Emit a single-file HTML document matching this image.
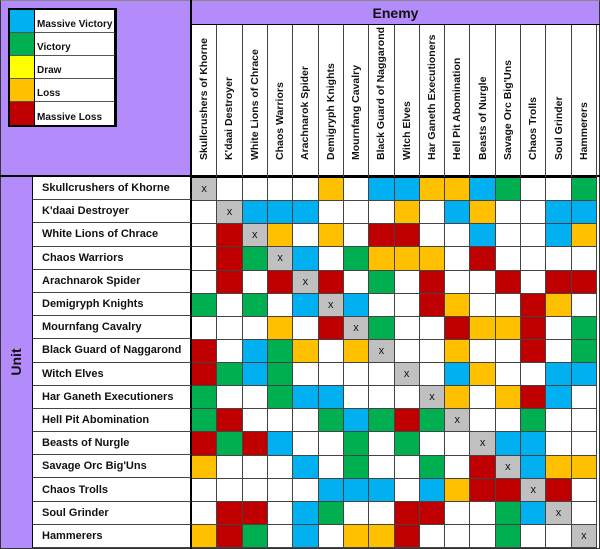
<!DOCTYPE html>
<html><head><style>
*{margin:0;padding:0;box-sizing:border-box}
body{width:600px;height:549px;background:#fff;position:relative;overflow:hidden;font-family:"Liberation Sans",Arial,sans-serif;font-weight:bold;color:#111}
.abs{position:absolute}
.pur{background:#b38bfa}
#grid{position:absolute;left:191px;top:177px;width:406px;height:371px;display:grid;grid-template-columns:repeat(16,1fr);grid-template-rows:repeat(16,1fr);border-left:1px solid #000;border-top:1px solid #000}
#grid div{border-right:1px solid #444;border-bottom:1px solid #444;font-size:11px;font-weight:normal;display:flex;align-items:center;justify-content:center}
.B{background:#00b0f0}.G{background:#00b050}.O{background:#ffc000}.R{background:#c00000}.W{background:#fff}.X{background:#c0c0c0}
#heads{position:absolute;left:191px;top:25px;width:406px;height:152px;display:grid;grid-template-columns:repeat(16,1fr);border-left:1px solid #000}
#heads div{border-right:1px solid #444;position:relative;overflow:hidden}
#heads span{position:absolute;left:50%;bottom:5px;transform-origin:0 0;transform:rotate(-90deg) translate(0,-50%);white-space:nowrap;font-size:10.5px}
#rows{position:absolute;left:32px;top:177px;width:159px;height:371px;display:grid;grid-template-rows:repeat(16,1fr)}
#rows div{border-bottom:1px solid #444;font-size:11px;padding-left:9px;display:flex;align-items:center;border-left:1px solid #000}
#leg{position:absolute;left:8px;top:8px;width:109px;height:119px;border:2px solid #000;background:#fff;display:grid;grid-template-columns:25px 1fr;grid-template-rows:repeat(5,1fr)}
#leg div{border-bottom:1px solid #555;border-right:1px solid #000;font-size:10px;display:flex;align-items:flex-end;padding:0 0 2px 2px}
</style></head><body>
<div class="abs pur" style="left:0;top:0;width:191px;height:177px"></div>
<div class="abs pur" style="left:191px;top:0;width:409px;height:25px"></div>
<div class="abs" style="left:191px;top:5px;width:409px;text-align:center;font-size:14px;line-height:16px">Enemy</div>
<div class="abs pur" style="left:0;top:177px;width:32px;height:372px"></div>
<div class="abs" style="left:16px;top:362px;transform:translate(-50%,-50%) rotate(-90deg);font-size:14px">Unit</div>
<div class="abs" style="left:0;top:0;width:600px;height:549px;border:1px solid #333;border-top-color:#888"></div>
<div class="abs" style="left:190px;top:0;width:2px;height:549px;background:#000"></div>
<div class="abs" style="left:0;top:175px;width:600px;height:2px;background:#000"></div>
<div class="abs" style="left:191px;top:24px;width:409px;height:1px;background:#000"></div>
<div id="leg">
<div class="B"></div><div>Massive Victory</div>
<div class="G"></div><div>Victory</div>
<div style="background:#ff0"></div><div>Draw</div>
<div class="O"></div><div>Loss</div>
<div class="R" style="border-bottom:none"></div><div style="border-bottom:none">Massive Loss</div>
</div>
<div id="heads">
<div><span>Skullcrushers of Khorne</span></div><div><span>K'daai Destroyer</span></div><div><span>White Lions of Chrace</span></div><div><span>Chaos Warriors</span></div><div><span>Arachnarok Spider</span></div><div><span>Demigryph Knights</span></div><div><span>Mournfang Cavalry</span></div><div><span>Black Guard of Naggarond</span></div><div><span>Witch Elves</span></div><div><span>Har Ganeth Executioners</span></div><div><span>Hell Pit Abomination</span></div><div><span>Beasts of Nurgle</span></div><div><span>Savage Orc Big'Uns</span></div><div><span>Chaos Trolls</span></div><div><span>Soul Grinder</span></div><div><span>Hammerers</span></div>
</div>
<div id="rows">
<div>Skullcrushers of Khorne</div><div>K'daai Destroyer</div><div>White Lions of Chrace</div><div>Chaos Warriors</div><div>Arachnarok Spider</div><div>Demigryph Knights</div><div>Mournfang Cavalry</div><div>Black Guard of Naggarond</div><div>Witch Elves</div><div>Har Ganeth Executioners</div><div>Hell Pit Abomination</div><div>Beasts of Nurgle</div><div>Savage Orc Big'Uns</div><div>Chaos Trolls</div><div>Soul Grinder</div><div>Hammerers</div>
</div>
<div id="grid">
<div class="X">x</div><div class="W"></div><div class="W"></div><div class="W"></div><div class="W"></div><div class="O"></div><div class="W"></div><div class="B"></div><div class="B"></div><div class="O"></div><div class="O"></div><div class="B"></div><div class="G"></div><div class="W"></div><div class="W"></div><div class="G"></div>
<div class="W"></div><div class="X">x</div><div class="B"></div><div class="B"></div><div class="B"></div><div class="W"></div><div class="W"></div><div class="W"></div><div class="O"></div><div class="W"></div><div class="B"></div><div class="O"></div><div class="W"></div><div class="W"></div><div class="B"></div><div class="B"></div>
<div class="W"></div><div class="R"></div><div class="X">x</div><div class="O"></div><div class="W"></div><div class="O"></div><div class="W"></div><div class="R"></div><div class="R"></div><div class="W"></div><div class="W"></div><div class="B"></div><div class="W"></div><div class="W"></div><div class="B"></div><div class="O"></div>
<div class="W"></div><div class="R"></div><div class="G"></div><div class="X">x</div><div class="B"></div><div class="W"></div><div class="G"></div><div class="O"></div><div class="O"></div><div class="O"></div><div class="W"></div><div class="R"></div><div class="W"></div><div class="W"></div><div class="W"></div><div class="W"></div>
<div class="W"></div><div class="R"></div><div class="W"></div><div class="R"></div><div class="X">x</div><div class="R"></div><div class="W"></div><div class="G"></div><div class="W"></div><div class="R"></div><div class="W"></div><div class="W"></div><div class="R"></div><div class="W"></div><div class="R"></div><div class="R"></div>
<div class="G"></div><div class="W"></div><div class="G"></div><div class="W"></div><div class="B"></div><div class="X">x</div><div class="B"></div><div class="W"></div><div class="W"></div><div class="R"></div><div class="O"></div><div class="W"></div><div class="W"></div><div class="R"></div><div class="O"></div><div class="W"></div>
<div class="W"></div><div class="W"></div><div class="W"></div><div class="O"></div><div class="W"></div><div class="R"></div><div class="X">x</div><div class="G"></div><div class="W"></div><div class="W"></div><div class="R"></div><div class="O"></div><div class="O"></div><div class="R"></div><div class="W"></div><div class="G"></div>
<div class="R"></div><div class="W"></div><div class="B"></div><div class="G"></div><div class="O"></div><div class="W"></div><div class="O"></div><div class="X">x</div><div class="W"></div><div class="W"></div><div class="O"></div><div class="W"></div><div class="W"></div><div class="R"></div><div class="W"></div><div class="G"></div>
<div class="R"></div><div class="G"></div><div class="B"></div><div class="G"></div><div class="W"></div><div class="W"></div><div class="W"></div><div class="W"></div><div class="X">x</div><div class="W"></div><div class="B"></div><div class="O"></div><div class="W"></div><div class="W"></div><div class="B"></div><div class="B"></div>
<div class="G"></div><div class="W"></div><div class="W"></div><div class="G"></div><div class="B"></div><div class="B"></div><div class="W"></div><div class="W"></div><div class="W"></div><div class="X">x</div><div class="O"></div><div class="W"></div><div class="O"></div><div class="R"></div><div class="B"></div><div class="W"></div>
<div class="G"></div><div class="R"></div><div class="W"></div><div class="W"></div><div class="W"></div><div class="G"></div><div class="B"></div><div class="G"></div><div class="R"></div><div class="G"></div><div class="X">x</div><div class="W"></div><div class="W"></div><div class="G"></div><div class="W"></div><div class="W"></div>
<div class="R"></div><div class="G"></div><div class="R"></div><div class="B"></div><div class="W"></div><div class="W"></div><div class="G"></div><div class="W"></div><div class="G"></div><div class="W"></div><div class="W"></div><div class="X">x</div><div class="B"></div><div class="B"></div><div class="W"></div><div class="W"></div>
<div class="O"></div><div class="W"></div><div class="W"></div><div class="W"></div><div class="B"></div><div class="W"></div><div class="G"></div><div class="W"></div><div class="W"></div><div class="G"></div><div class="W"></div><div class="R"></div><div class="X">x</div><div class="B"></div><div class="O"></div><div class="O"></div>
<div class="W"></div><div class="W"></div><div class="W"></div><div class="W"></div><div class="W"></div><div class="B"></div><div class="B"></div><div class="B"></div><div class="W"></div><div class="B"></div><div class="O"></div><div class="R"></div><div class="R"></div><div class="X">x</div><div class="R"></div><div class="W"></div>
<div class="W"></div><div class="R"></div><div class="R"></div><div class="W"></div><div class="B"></div><div class="G"></div><div class="W"></div><div class="W"></div><div class="R"></div><div class="R"></div><div class="W"></div><div class="W"></div><div class="G"></div><div class="B"></div><div class="X">x</div><div class="W"></div>
<div class="O"></div><div class="R"></div><div class="G"></div><div class="W"></div><div class="B"></div><div class="W"></div><div class="O"></div><div class="O"></div><div class="R"></div><div class="W"></div><div class="W"></div><div class="W"></div><div class="G"></div><div class="W"></div><div class="W"></div><div class="X">x</div>
</div>
</body></html>
